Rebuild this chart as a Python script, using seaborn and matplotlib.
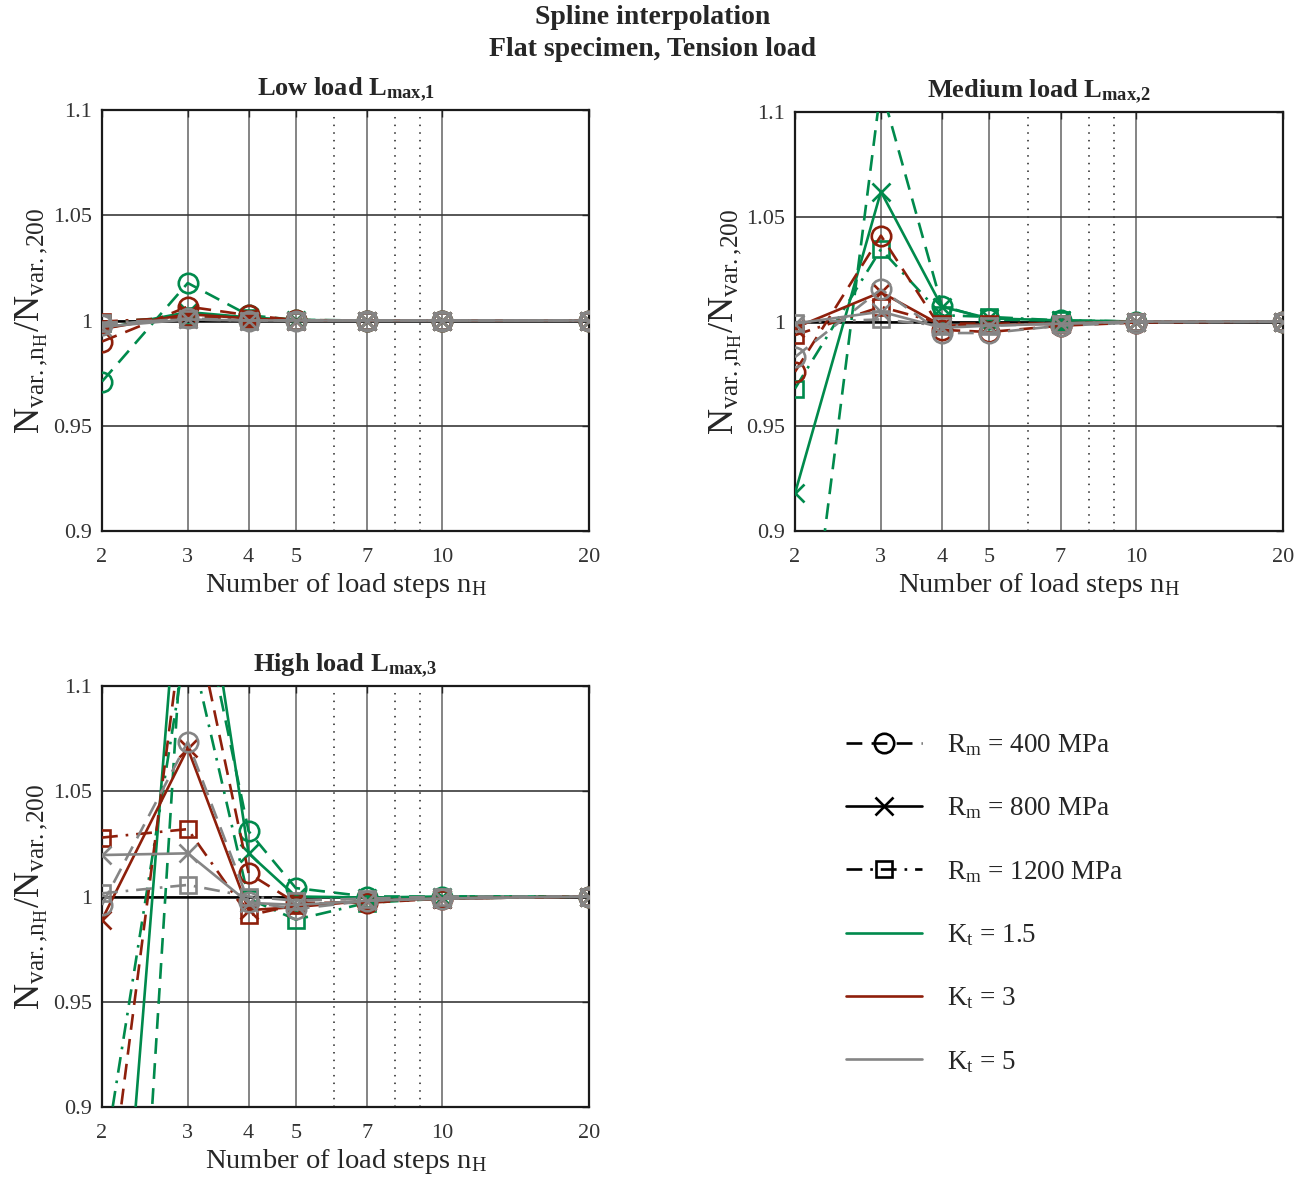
import matplotlib
matplotlib.use("Agg")
import matplotlib.pyplot as plt
from matplotlib.lines import Line2D
from matplotlib.ticker import FixedLocator, FixedFormatter, NullFormatter
import pandas as pd
import seaborn as sns

# ---------------------------------------------------------------- data
n_steps = [2, 3, 4, 5, 7, 10, 20]

x_ticks = [2, 3, 4, 5, 7, 10, 20]
x_dotted = [6, 8, 9]
y_ticks = [0.9, 0.95, 1.0, 1.05, 1.1]
y_tick_labels = ["0.9", "0.95", "1", "1.05", "1.1"]

kt_values = ["1.5", "3", "5"]
rm_values = ["400", "800", "1200"]

# Low load L_max,1
low_kt15_rm400 = [0.971, 1.0178, 1.0025, 1.0003, 1.0, 1.0, 1.0]
low_kt15_rm800 = [0.996, 1.004, 1.0015, 1.0002, 1.0, 1.0, 1.0]
low_kt15_rm1200 = [0.999, 1.002, 1.001, 1.0, 1.0, 1.0, 1.0]
low_kt3_rm400 = [0.990, 1.0066, 1.0025, 1.0002, 1.0, 1.0, 1.0]
low_kt3_rm800 = [0.996, 1.003, 1.001, 1.0, 1.0, 1.0, 1.0]
low_kt3_rm1200 = [0.9995, 1.0015, 1.0005, 1.0, 1.0, 1.0, 1.0]
low_kt5_rm400 = [0.998, 1.001, 1.0, 1.0, 1.0, 1.0, 1.0]
low_kt5_rm800 = [0.997, 1.0005, 1.0, 1.0, 1.0, 1.0, 1.0]
low_kt5_rm1200 = [0.999, 1.0005, 1.0, 1.0, 1.0, 1.0, 1.0]

# Medium load L_max,2
med_kt15_rm400 = [0.787, 1.112, 1.0075, 1.001, 1.0005, 1.0, 1.0]
med_kt15_rm800 = [0.918, 1.062, 1.007, 1.0015, 1.0005, 1.0, 1.0]
med_kt15_rm1200 = [0.968, 1.0345, 1.003, 1.0022, 1.0005, 1.0, 1.0]
med_kt3_rm400 = [0.976, 1.041, 0.996, 0.995, 0.998, 0.9995, 1.0]
med_kt3_rm800 = [0.997, 1.014, 0.998, 0.9985, 0.999, 1.0, 1.0]
med_kt3_rm1200 = [0.9935, 1.007, 0.999, 0.999, 0.999, 1.0, 1.0]
med_kt5_rm400 = [0.983, 1.0154, 0.9945, 0.9945, 0.998, 0.9995, 1.0]
med_kt5_rm800 = [0.999, 1.0047, 0.997, 0.998, 0.999, 1.0, 1.0]
med_kt5_rm1200 = [0.9995, 1.001, 0.998, 0.998, 0.999, 1.0, 1.0]

# High load L_max,3
high_kt15_rm400 = [0.52, 1.17, 1.031, 1.004, 1.0, 1.0, 1.0]
high_kt15_rm800 = [0.70, 1.21, 1.0205, 1.0, 0.9995, 1.0, 1.0]
high_kt15_rm1200 = [0.868, 1.125, 0.999, 0.989, 0.997, 0.999, 1.0]
high_kt3_rm400 = [0.829, 1.148, 1.011, 0.997, 0.997, 0.999, 1.0]
high_kt3_rm800 = [0.989, 1.0704, 0.9935, 0.995, 0.998, 0.999, 1.0]
high_kt3_rm1200 = [1.028, 1.032, 0.991, 0.996, 0.998, 0.999, 1.0]
high_kt5_rm400 = [0.996, 1.0735, 0.9975, 0.994, 0.998, 0.999, 1.0]
high_kt5_rm800 = [1.0197, 1.0205, 0.997, 0.996, 0.998, 0.999, 1.0]
high_kt5_rm1200 = [1.0015, 1.0055, 1.0, 0.998, 0.999, 1.0, 1.0]

panel_titles = [r"Low load $\mathbf{L_{max{,}1}}$",
                r"Medium load $\mathbf{L_{max{,}2}}$",
                r"High load $\mathbf{L_{max{,}3}}$"]

panel_data = [
    {("1.5", "400"): low_kt15_rm400, ("1.5", "800"): low_kt15_rm800, ("1.5", "1200"): low_kt15_rm1200,
     ("3", "400"): low_kt3_rm400, ("3", "800"): low_kt3_rm800, ("3", "1200"): low_kt3_rm1200,
     ("5", "400"): low_kt5_rm400, ("5", "800"): low_kt5_rm800, ("5", "1200"): low_kt5_rm1200},
    {("1.5", "400"): med_kt15_rm400, ("1.5", "800"): med_kt15_rm800, ("1.5", "1200"): med_kt15_rm1200,
     ("3", "400"): med_kt3_rm400, ("3", "800"): med_kt3_rm800, ("3", "1200"): med_kt3_rm1200,
     ("5", "400"): med_kt5_rm400, ("5", "800"): med_kt5_rm800, ("5", "1200"): med_kt5_rm1200},
    {("1.5", "400"): high_kt15_rm400, ("1.5", "800"): high_kt15_rm800, ("1.5", "1200"): high_kt15_rm1200,
     ("3", "400"): high_kt3_rm400, ("3", "800"): high_kt3_rm800, ("3", "1200"): high_kt3_rm1200,
     ("5", "400"): high_kt5_rm400, ("5", "800"): high_kt5_rm800, ("5", "1200"): high_kt5_rm1200},
]

# ---------------------------------------------------------------- style
kt_colors = {"1.5": "#008A4C", "3": "#8E1F0B", "5": "#858585"}
rm_lines = {"400": (0, (6, 3.5)), "800": "-", "1200": (0, (6, 3, 1, 3))}
rm_markers = {"400": "o", "800": "x", "1200": "s"}
rm_msize = {"400": 14, "800": 13, "1200": 12}

sns.set_theme(style="white")
plt.rcParams["font.family"] = ["Liberation Serif", "DejaVu Serif"]
plt.rcParams["mathtext.fontset"] = "custom"
plt.rcParams["mathtext.rm"] = "Liberation Serif"
plt.rcParams["mathtext.it"] = "Liberation Serif:italic"
plt.rcParams["mathtext.bf"] = "Liberation Serif:bold"

fig = plt.figure(figsize=(13.06, 11.78), dpi=100)
W, H = 1306, 1178


def px_axes(x0, y0, x1, y1):
    return fig.add_axes([x0 / W, 1 - y1 / H, (x1 - x0) / W, (y1 - y0) / H])


axes = [px_axes(102, 110, 589, 531),
        px_axes(795, 112, 1283, 531),
        px_axes(102, 686, 589, 1107)]

for ax, title, series in zip(axes, panel_titles, panel_data):
    ax.set_xscale("log")
    ax.set_xlim(n_steps[0], n_steps[-1])
    ax.set_ylim(y_ticks[0], y_ticks[-1])

    # grid
    ax.xaxis.set_major_locator(FixedLocator(x_ticks))
    ax.xaxis.set_major_formatter(FixedFormatter([str(v) for v in x_ticks]))
    ax.xaxis.set_minor_locator(FixedLocator(x_dotted))
    ax.xaxis.set_minor_formatter(NullFormatter())
    ax.yaxis.set_major_locator(FixedLocator(y_ticks))
    ax.yaxis.set_major_formatter(FixedFormatter(y_tick_labels))
    ax.grid(True, which="major", axis="x", color="#707070", lw=1.2, zorder=0)
    ax.grid(True, which="minor", axis="x", color="#222222", lw=1.1,
            linestyle=(0, (1, 4)), zorder=0)
    ax.grid(True, which="major", axis="y", color="#3a3a3a", lw=1.2, zorder=0)
    ax.axhline(1.0, color="black", lw=1.8, zorder=1)

    for kt in kt_values:
        for rm in rm_values:
            c = kt_colors[kt]
            sns.lineplot(x=n_steps, y=series[(kt, rm)], ax=ax, color=c,
                         linestyle=rm_lines[rm], lw=1.9, marker=rm_markers[rm],
                         markersize=rm_msize[rm], mfc="none", mec=c, mew=1.9,
                         sort=False, estimator=None, legend=False, zorder=3)

    ax.set_title(title, fontsize=19, fontweight="bold", pad=10)
    ax.set_xlabel(r"Number of load steps $\mathrm{n_H}$", fontsize=20.5, labelpad=3)
    ax.set_ylabel(r"$\mathrm{N_{var.{,}n_H}/N_{var.{,}200}}$", fontsize=26, labelpad=2)
    ax.tick_params(axis="both", which="major", direction="in", length=5,
                   width=1.0, labelsize=16, labelcolor="#333333",
                   top=True, right=True)
    ax.tick_params(axis="x", which="major", pad=12)
    ax.tick_params(axis="y", which="major", pad=7)
    ax.tick_params(axis="x", which="minor", length=0)
    for s in ax.spines.values():
        s.set_color("#1a1a1a")
        s.set_linewidth(1.6)
        s.set_visible(True)

# legend panel
leg_ax = px_axes(800, 690, 1300, 1110)
leg_ax.axis("off")
handles = []
labels = []
for rm in rm_values:
    handles.append(Line2D([], [], color="black", linestyle=rm_lines[rm], lw=1.9,
                          marker=rm_markers[rm], markersize=rm_msize[rm],
                          mfc="none", mec="black", mew=1.9))
    labels.append(r"$\mathrm{R_m}$ = " + rm + " MPa")
for kt in kt_values:
    handles.append(Line2D([], [], color=kt_colors[kt], lw=1.9))
    labels.append(r"$\mathrm{K_t}$ = " + kt)
leg_ax.legend(handles, labels, loc="upper left", bbox_to_anchor=(0.07, 0.925),
              frameon=False, fontsize=19.5, handlelength=2.8, handletextpad=0.95,
              labelspacing=1.38, numpoints=1, borderaxespad=0)

fig.text(0.5, 1 - 18 / H, "Spline interpolation", ha="center", va="center",
         fontsize=20, fontweight="bold")
fig.text(0.5, 1 - 49 / H, "Flat specimen, Tension load", ha="center", va="center",
         fontsize=20, fontweight="bold")

fig.savefig("out.png", dpi=100)
